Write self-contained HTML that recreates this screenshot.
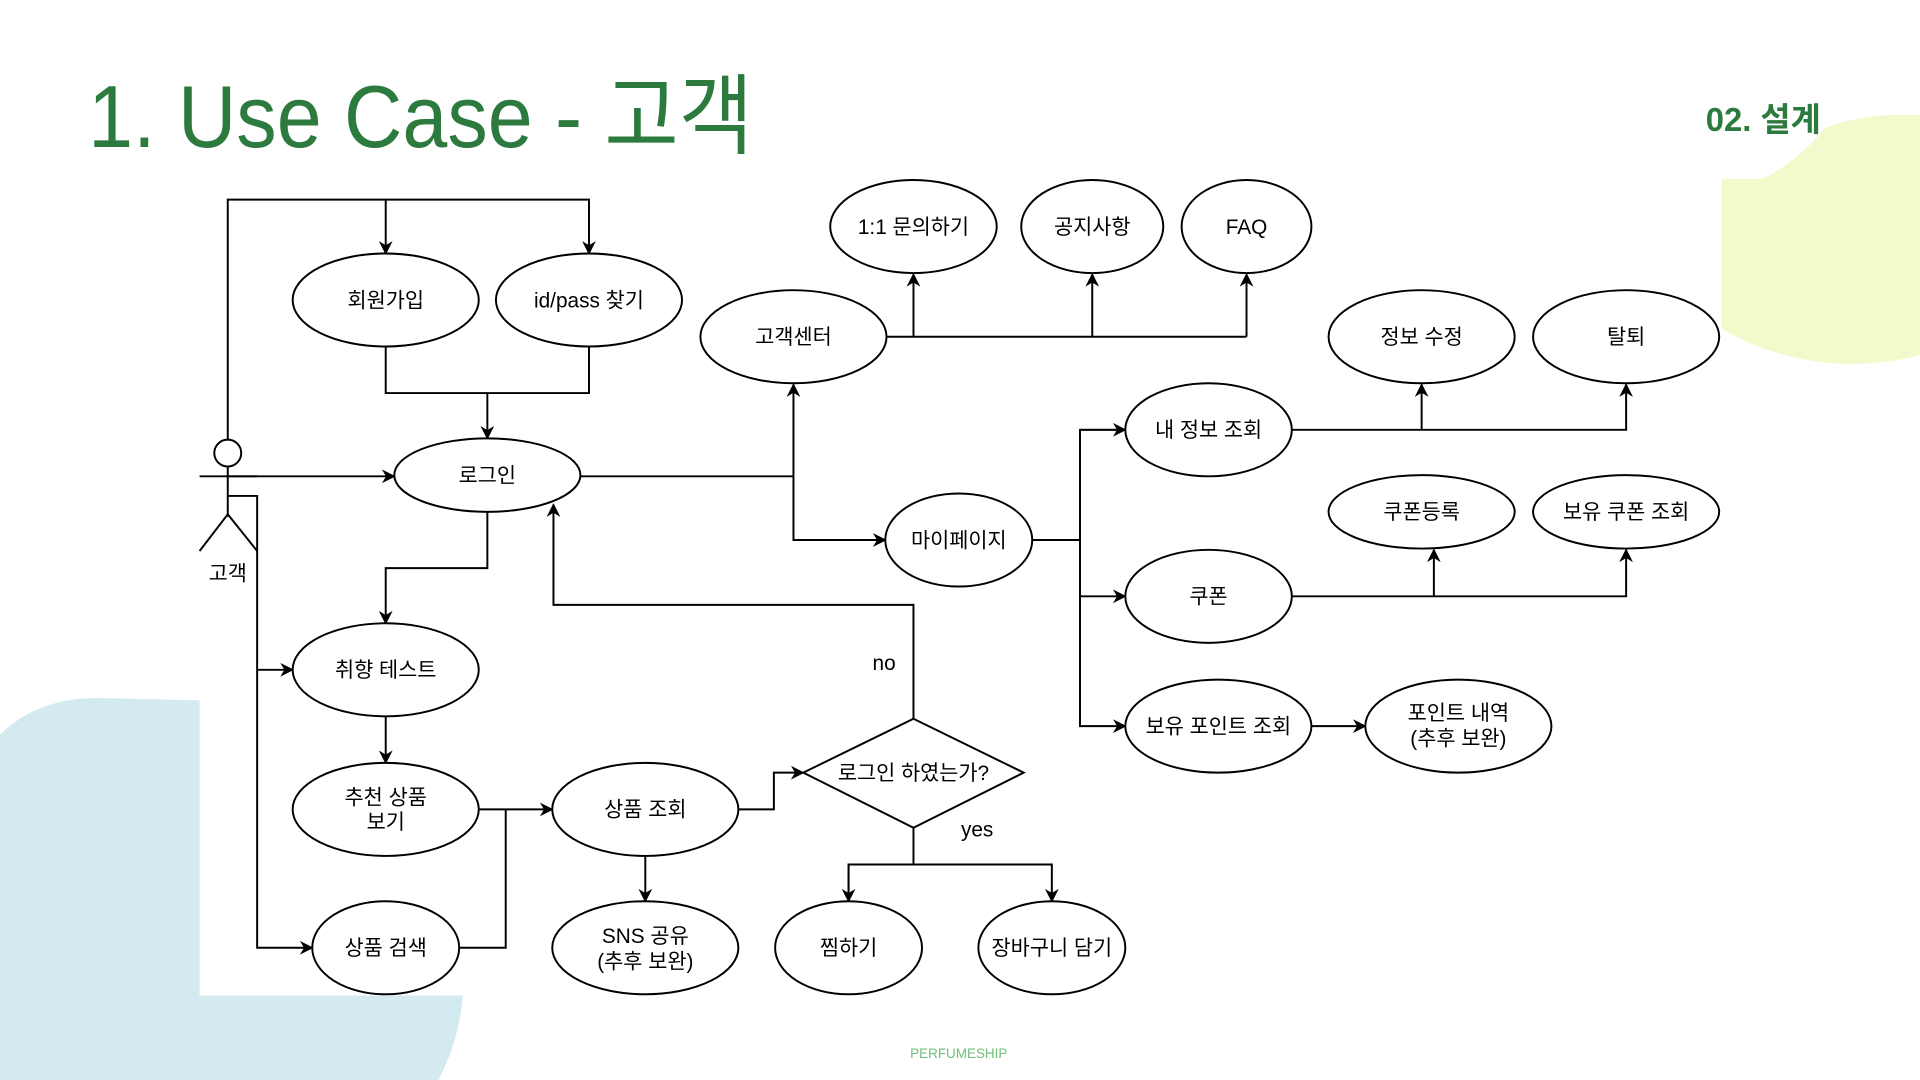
<!DOCTYPE html>
<html><head><meta charset="utf-8"><style>
html,body{margin:0;padding:0;background:#fff;}
svg{display:block;}
text{font-family:"Liberation Sans","Noto Sans CJK KR",sans-serif;}
</style></head><body>
<svg width="1920" height="1080" viewBox="0 0 1568 882" xmlns="http://www.w3.org/2000/svg">
<defs>
<marker id="a" viewBox="0 0 10 10" refX="9" refY="5" markerWidth="7" markerHeight="7" orient="auto-start-reverse">
<path d="M0,0 L10,5 L0,10 L3,5 z" fill="#000"/></marker>
</defs>
<rect width="1568" height="882" fill="#fff"/>
<!-- background shapes -->
<path d="M0,600 Q30,570 80,570 L163,572 L163,813 L378,813 Q375,850 358,882 L0,882 Z" fill="#d3ebf0"/>
<path d="M1366,146 L1440,146 Q1470,130 1490,105 Q1520,92 1568,94 L1568,290 Q1530,300 1490,296 Q1440,290 1406,268 L1406,146 Z" fill="#f4f9cc"/>
<!-- title -->
<text x="72" y="120" font-size="72" fill="#2c7a3e" textLength="543" lengthAdjust="spacingAndGlyphs">1. Use Case - 고객</text>
<text x="1393" y="107" font-size="27" font-weight="bold" fill="#2c7a3e" textLength="94" lengthAdjust="spacingAndGlyphs">02. 설계</text>
<text x="783" y="864" font-size="11" fill="#6fbf7a" text-anchor="middle">PERFUMESHIP</text>
<g stroke="#000" stroke-width="1.6" fill="none">
<!-- actor -->
<circle cx="186" cy="370" r="11" fill="#fff"/>
<line x1="186" y1="381" x2="186" y2="422"/>
<line x1="163" y1="389" x2="210" y2="389"/>
<line x1="186" y1="420" x2="163" y2="450"/>
<line x1="186" y1="420" x2="210" y2="450"/>
<!-- connectors -->
<polyline points="186,359 186,163 481,163 481,207" marker-end="url(#a)"/>
<line x1="315" y1="163" x2="315" y2="207" marker-end="url(#a)"/>
<polyline points="315,283 315,321 481,321 481,283"/>
<line x1="398" y1="321" x2="398" y2="358" marker-end="url(#a)"/>
<line x1="186" y1="389" x2="322" y2="389" marker-end="url(#a)"/>
<polyline points="186,405 210,405 210,774 255,774" marker-end="url(#a)"/>
<line x1="210" y1="547" x2="239" y2="547" marker-end="url(#a)"/>
<line x1="474" y1="389" x2="648" y2="389"/>
<line x1="648" y1="389" x2="648" y2="314" marker-end="url(#a)"/>
<polyline points="648,389 648,441 723,441" marker-end="url(#a)"/>
<line x1="724" y1="275" x2="1018" y2="275"/>
<line x1="746" y1="275" x2="746" y2="224" marker-end="url(#a)"/>
<line x1="892" y1="275" x2="892" y2="224" marker-end="url(#a)"/>
<line x1="1018" y1="275" x2="1018" y2="224" marker-end="url(#a)"/>
<line x1="843" y1="441" x2="882" y2="441"/>
<polyline points="919,351 882,351 882,593 919,593" marker-end="url(#a)"/>
<line x1="882" y1="487" x2="919" y2="487" marker-end="url(#a)"/>
<line x1="882" y1="351" x2="919" y2="351" marker-end="url(#a)"/>
<polyline points="1055,351 1328,351 1328,314" marker-end="url(#a)"/>
<line x1="1161" y1="351" x2="1161" y2="314" marker-end="url(#a)"/>
<polyline points="1055,487 1328,487 1328,449" marker-end="url(#a)"/>
<line x1="1171" y1="487" x2="1171" y2="449" marker-end="url(#a)"/>
<line x1="1071" y1="593" x2="1115" y2="593" marker-end="url(#a)"/>
<polyline points="398,418 398,464 315,464 315,509" marker-end="url(#a)"/>
<line x1="315" y1="585" x2="315" y2="623" marker-end="url(#a)"/>
<line x1="391" y1="661" x2="451" y2="661" marker-end="url(#a)"/>
<polyline points="375,774 413,774 413,661"/>
<polyline points="603,661 632,661 632,631 656,631" marker-end="url(#a)"/>
<line x1="527" y1="699" x2="527" y2="736" marker-end="url(#a)"/>
<polyline points="746,587 746,494 452,494 452,412" marker-end="url(#a)"/>
<line x1="746" y1="676" x2="746" y2="706"/>
<polyline points="693,736 693,706 859,706 859,736" marker-end="url(#a)"/>
<line x1="693" y1="706" x2="693" y2="736" marker-end="url(#a)"/>
<!-- nodes -->
<g fill="#fff">
<ellipse cx="315" cy="245" rx="76" ry="38"/>
<ellipse cx="481" cy="245" rx="76" ry="38"/>
<ellipse cx="398" cy="388" rx="76" ry="30"/>
<ellipse cx="648" cy="275" rx="76" ry="38"/>
<ellipse cx="746" cy="185" rx="68" ry="38"/>
<ellipse cx="892" cy="185" rx="58" ry="38"/>
<ellipse cx="1018" cy="185" rx="53" ry="38"/>
<ellipse cx="1161" cy="275" rx="76" ry="38"/>
<ellipse cx="1328" cy="275" rx="76" ry="38"/>
<ellipse cx="987" cy="351" rx="68" ry="38"/>
<ellipse cx="783" cy="441" rx="60" ry="38"/>
<ellipse cx="1161" cy="418" rx="76" ry="30"/>
<ellipse cx="1328" cy="418" rx="76" ry="30"/>
<ellipse cx="987" cy="487" rx="68" ry="38"/>
<ellipse cx="995" cy="593" rx="76" ry="38"/>
<ellipse cx="1191" cy="593" rx="76" ry="38"/>
<ellipse cx="315" cy="547" rx="76" ry="38"/>
<ellipse cx="315" cy="661" rx="76" ry="38"/>
<ellipse cx="527" cy="661" rx="76" ry="38"/>
<ellipse cx="315" cy="774" rx="60" ry="38"/>
<ellipse cx="527" cy="774" rx="76" ry="38"/>
<ellipse cx="693" cy="774" rx="60" ry="38"/>
<ellipse cx="859" cy="774" rx="60" ry="38"/>
<polygon points="746,587 836,631 746,676 656,631"/>
</g>
</g>
<g font-size="17" fill="#000" text-anchor="middle">
<text x="315" y="251">회원가입</text>
<text x="481" y="251">id/pass 찾기</text>
<text x="398" y="394">로그인</text>
<text x="648" y="281">고객센터</text>
<text x="746" y="191">1:1 문의하기</text>
<text x="892" y="191">공지사항</text>
<text x="1018" y="191">FAQ</text>
<text x="1161" y="281">정보 수정</text>
<text x="1328" y="281">탈퇴</text>
<text x="987" y="357">내 정보 조회</text>
<text x="783" y="447">마이페이지</text>
<text x="1161" y="424">쿠폰등록</text>
<text x="1328" y="424">보유 쿠폰 조회</text>
<text x="987" y="493">쿠폰</text>
<text x="995" y="599">보유 포인트 조회</text>
<text x="1191" y="588">포인트 내역</text>
<text x="1191" y="609">(추후 보완)</text>
<text x="315" y="553">취향 테스트</text>
<text x="315" y="657">추천 상품</text>
<text x="315" y="677">보기</text>
<text x="527" y="667">상품 조회</text>
<text x="315" y="780">상품 검색</text>
<text x="527" y="770">SNS 공유</text>
<text x="527" y="791">(추후 보완)</text>
<text x="693" y="780">찜하기</text>
<text x="859" y="780">장바구니 담기</text>
<text x="746" y="637">로그인 하였는가?</text>
<text x="186" y="474">고객</text>
<text x="722" y="547">no</text>
<text x="798" y="683">yes</text>
</g>
</svg>
</body></html>
